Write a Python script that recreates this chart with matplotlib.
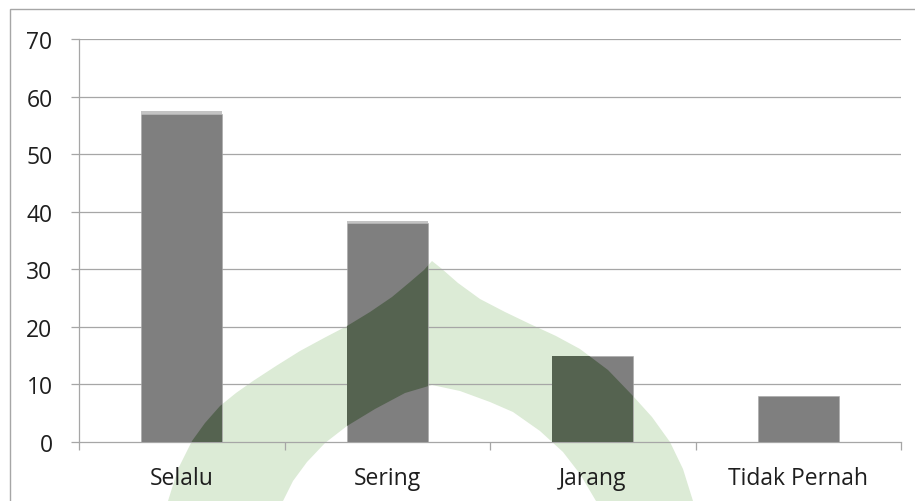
import matplotlib
matplotlib.use("Agg")
import matplotlib.pyplot as plt
from matplotlib.patches import Polygon, Rectangle
from matplotlib.transforms import Affine2D

categories = ["Selalu", "Sering", "Jarang", "Tidak Pernah"]
values = [57, 38, 15, 8]
caps = [0.45, 0.45, 0, 0]
yticks = [0, 10, 20, 30, 40, 50, 60, 70]

W, H = 915, 502
plt.rcParams['font.family'] = ['Open Sans', 'DejaVu Sans']
fig = plt.figure(figsize=(W / 100, H / 100), dpi=100)
ax = fig.add_axes([79 / W, (H - 443) / H, 822 / W, 403 / H])

GRID = '#a6a6a6'
BAR = '#7f7f7f'
TXT = '#1e1e1e'

x = list(range(len(categories)))
ax.set_xlim(-0.5, len(categories) - 0.5)
ax.set_ylim(0, 70)
ax.set_yticks(yticks)
ax.set_yticklabels([str(v) for v in yticks])
for v in yticks[1:]:
    ax.axhline(v, color=GRID, lw=0.9, zorder=1)

bars = ax.bar(x, values, width=0.394, color=BAR, edgecolor='#a8a8a8', lw=0.4, zorder=2)
ax.bar(x, caps, bottom=values, width=0.394, color='#c4c4c4', lw=0, zorder=2)

ax.set_xticks([i - 0.5 for i in range(len(categories) + 1)])
ax.set_xticklabels([])
ax.set_xticks(x, minor=True)
ax.set_xticklabels(categories, minor=True)
ax.tick_params(axis='x', which='major', length=6, width=0.9, color=GRID, direction='out')
ax.tick_params(axis='x', which='minor', length=0, pad=17, labelsize=16.5, labelcolor=TXT)
ax.tick_params(axis='y', length=6, width=0.9, color=GRID, direction='out', pad=13,
               labelsize=16.5, labelcolor=TXT)
for s in ['top', 'right']:
    ax.spines[s].set_visible(False)
for s in ['left', 'bottom']:
    ax.spines[s].set_color(GRID)
    ax.spines[s].set_linewidth(0.9)
    ax.spines[s].set_zorder(1.5)

# outer chart border
fig.patches.append(Rectangle((10 / W, -0.1), 1.2, (H - 10) / H + 0.1, transform=fig.transFigure,
                             fill=False, edgecolor='#a6a6a6', lw=1.0))

# page watermark (decorative, pixel coordinates of page)
wm = [(168, 502), (178, 470), (192, 442), (205, 424), (220, 407), (236, 394), (253, 382),
      (276, 367), (300, 352), (324, 339), (347, 327), (370, 313), (392, 298), (410, 283),
      (424, 271), (432, 262),
      (442, 270), (458, 284), (480, 300), (505, 313), (530, 325), (556, 337), (580, 350),
      (608, 371), (633, 397), (652, 418), (670, 443), (683, 470), (693, 502),
      (596, 502), (580, 475), (563, 453), (540, 432), (513, 413), (490, 403), (460, 392),
      (432, 386),
      (405, 394), (375, 410), (347, 427), (325, 444), (307, 463), (293, 482), (283, 502)]
tr = Affine2D().scale(1, -1).translate(0, H).scale(1 / W, 1 / H) + fig.transFigure
light = Polygon(wm, closed=True, transform=tr, facecolor='#dcebd6', edgecolor='none', zorder=0.5)
ax.add_patch(light)
light.set_clip_on(False)
for b in bars:
    dark = Polygon(wm, closed=True, transform=tr, facecolor='#556350', edgecolor='none', zorder=2.5)
    ax.add_patch(dark)
    dark.set_clip_path(b)

fig.savefig("out.png", dpi=100)
